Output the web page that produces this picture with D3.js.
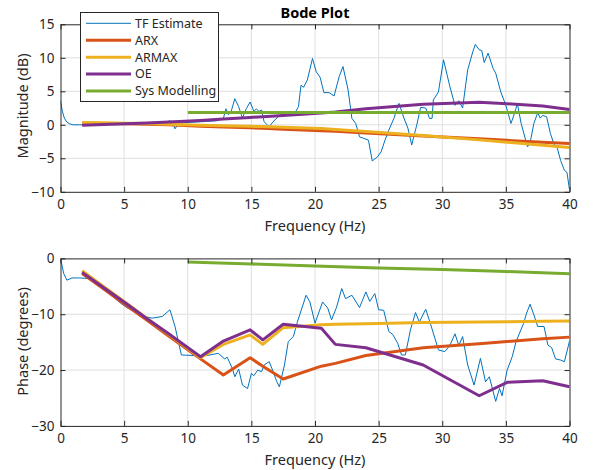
<!DOCTYPE html>
<html><head><meta charset="utf-8">
<script src="https://cdn.jsdelivr.net/npm/d3@7"></script>
<style>
body{margin:0;background:#fff}
svg{display:block}
text{font-family:"Noto Sans",sans-serif;fill:#262626}
</style>
</head><body>
<svg id="c" width="593" height="470"></svg>
<script>
// ---------------- DATA ----------------
const xTicks = [0,5,10,15,20,25,30,35,40];
const magTicks = [-10,-5,0,5,10,15];
const phaseTicks = [-30,-20,-10,0];
const seriesNames = ["TF Estimate","ARX","ARMAX","OE","Sys Modelling"];

// TF estimate (magnitude)
const tfMagFreq = [0,0.15,0.3,0.5,0.7,1.0,1.5,2.5,4,5.5,7,8.0,8.6,8.8,9.0,9.2,9.6,10.5,11.5,12.3,12.8,13.0,13.2,13.4,13.7,14.0,14.3,14.6,14.9,15.2,15.4,15.6,15.8,16.0,16.4,16.7,17.1,17.5,17.8,18.1,18.4,18.7,18.9,19.1,19.4,19.8,20.1,20.4,20.7,21.1,21.5,21.9,22.2,22.6,22.9,23.2,23.5,23.8,24.2,24.5,24.9,25.2,25.5,25.8,26.2,26.6,27.0,27.3,27.6,28.0,28.3,28.7,29.0,29.2,29.3,29.7,30.1,30.6,31.0,31.3,31.6,32.0,32.4,32.6,32.9,33.1,33.3,33.6,34.0,34.2,34.6,35.0,35.4,35.7,35.9,36.2,36.7,36.9,37.2,37.5,37.7,37.9,38.2,38.5,38.8,39.0,39.3,39.6,39.8,40.0];
const tfMag = [3.6,2.0,1.0,0.4,0.15,0.0,0.0,0.05,0.1,0.1,0.15,0.2,0.6,0.3,-0.6,0.0,0.3,0.4,0.5,0.6,0.95,2.4,1.5,1.9,3.9,2.7,1.0,2.4,3.4,2.0,2.4,2.0,2.2,0.45,-0.3,0.45,1.2,1.75,1.6,2.0,1.7,2.7,5.9,5.6,6.7,9.9,7.9,7.1,4.8,4.8,4.3,7.2,8.7,5.2,0.95,0.2,-1.8,-2.0,-2.3,-5.4,-4.8,-4.0,-2.3,-0.8,0.95,3.2,0.95,-0.5,-3.0,0.0,2.6,2.5,0.95,0.95,3.7,4.9,9.7,5.7,2.9,3.6,2.5,8.2,10.9,12.0,11.2,11.1,9.3,10.7,8.4,7.7,4.9,2.9,0.2,1.8,3.2,0.2,-3.3,-2.7,0.2,1.8,1.0,1.4,1.2,-1.3,-3.0,-3.2,-5.3,-6.8,-7.1,-9.7];

// TF estimate (phase)
const tfPhaseFreq = [0,0.25,0.5,0.9,1.5,2.2,2.8,3.5,4.2,4.6,5.2,6.0,6.6,7.2,8.0,8.6,9.0,9.5,10.6,11.5,12.4,12.9,13.1,13.5,13.7,14.0,14.3,14.7,15.0,15.2,15.5,15.8,16.0,16.4,16.7,17.0,17.2,17.6,17.9,18.3,18.6,19.3,19.6,20.0,20.6,21.0,21.3,21.7,22.1,22.4,22.9,23.5,24.0,24.3,24.7,25.0,25.4,25.8,26.1,26.5,26.8,27.1,27.5,27.9,28.2,28.7,29.1,29.7,30.2,30.6,31.0,31.3,31.6,32.0,32.5,33.0,33.4,33.7,34.2,34.5,34.7,35.1,35.5,35.8,36.4,36.6,36.9,37.2,37.5,38.0,38.3,38.6,38.9,39.3,39.6,40.0];
const tfPhase = [0,-2.7,-3.9,-3.5,-3.5,-3.6,-4.5,-5.8,-7.0,-7.8,-8.8,-9.8,-10.4,-10.7,-10.4,-9.2,-12.2,-17.3,-17.4,-17.4,-17.0,-18.0,-17.7,-19.7,-21.2,-19.8,-22.7,-23.3,-20.6,-21.0,-20.0,-20.3,-19.1,-18.5,-20.2,-22.1,-23.0,-19.1,-14.9,-14.0,-11.5,-6.6,-7.8,-11.6,-7.8,-8.9,-11.0,-8.7,-5.4,-7.2,-6.6,-8.8,-6.0,-7.7,-6.3,-9.2,-9.3,-13.1,-13.6,-15.2,-17.3,-17.3,-12.8,-9.7,-11.4,-9.1,-11.9,-16.4,-16.7,-15.6,-13.5,-15.6,-14.0,-19.1,-22.7,-17.9,-22.1,-21.2,-25.6,-23.3,-24.6,-20.0,-17.6,-14.9,-11.6,-10.0,-8.2,-10.1,-12.2,-12.2,-15.5,-16.0,-18.0,-18.2,-18.5,-14.8];

// Identified models (shared frequency grid)
const modelFreq = [1.7,3.4,5.1,6.8,8.5,11.0,12.8,14.9,15.9,17.5,20.5,21.6,24.0,28.5,32.9,35.1,37.9,40.0];
const arxMag   = [0.2,0.18,0.14,0.08,0.0,-0.2,-0.32,-0.45,-0.52,-0.65,-0.88,-0.98,-1.23,-1.67,-2.1,-2.32,-2.6,-2.8];
const armaxMag = [0.35,0.3,0.25,0.18,0.1,-0.05,-0.13,-0.22,-0.27,-0.35,-0.57,-0.7,-1.0,-1.6,-2.25,-2.6,-3.05,-3.4];
const oeMag    = [-0.05,0.05,0.15,0.28,0.42,0.65,0.85,1.1,1.2,1.4,1.75,1.9,2.4,3.05,3.35,3.15,2.8,2.3];
const arxPhase   = [-2.7,-5.5,-8.3,-11.1,-13.9,-18.0,-20.9,-17.8,-19.3,-21.6,-19.3,-18.8,-17.4,-16.0,-15.3,-14.9,-14.4,-14.1];
const armaxPhase = [-2.2,-5.05,-7.9,-10.75,-13.6,-17.8,-15.4,-13.7,-15.4,-12.4,-11.9,-11.8,-11.7,-11.5,-11.4,-11.35,-11.25,-11.2];
const oePhase    = [-2.5,-5.26,-8.0,-10.8,-13.5,-17.6,-14.8,-12.8,-14.6,-11.8,-12.5,-15.4,-16.0,-19.1,-24.6,-22.2,-21.9,-23.0];

// System modelling
const sysFreq  = [10,15,20,25,30,35,40];
const sysMag   = [1.85,1.85,1.85,1.85,1.85,1.85,1.85];
const sysPhase = [-0.65,-1.0,-1.35,-1.7,-2.0,-2.35,-2.75];

// ---------------- DRAW ----------------
const colors = {"TF Estimate":"#0072BD","ARX":"#D95319","ARMAX":"#EDB120","OE":"#7E2F8E","Sys Modelling":"#77AC30"};
const widths = {"TF Estimate":1,"ARX":3,"ARMAX":3,"OE":3,"Sys Modelling":3};
const svg = d3.select("#c");
const AX = "#262626", GRID = "#dfdfdf";
const x = d3.scaleLinear().domain([0,40]).range([60.5,569.5]);

function zip(f,v){ return f.map((d,i)=>[d,v[i]]); }

function panel(opt){
  const y = d3.scaleLinear().domain(opt.domain).range([opt.bottom, opt.top]);
  const g = svg.append("g");
  const id = "clip"+opt.name;
  svg.append("clipPath").attr("id",id).append("rect")
    .attr("x",x(0)).attr("y",opt.top).attr("width",x(40)-x(0)).attr("height",opt.bottom-opt.top);
  // grid
  g.append("g").selectAll("line").data(xTicks.slice(1,-1)).join("line")
    .attr("x1",d=>x(d)).attr("x2",d=>x(d)).attr("y1",opt.top).attr("y2",opt.bottom)
    .attr("stroke",GRID).attr("stroke-width",1);
  g.append("g").selectAll("line").data(opt.ticks.slice(1,-1)).join("line")
    .attr("y1",d=>y(d)).attr("y2",d=>y(d)).attr("x1",x(0)).attr("x2",x(40))
    .attr("stroke",GRID).attr("stroke-width",1);
  // series
  const line = d3.line().x(d=>x(d[0])).y(d=>y(d[1]));
  const lg = g.append("g").attr("clip-path",`url(#${id})`);
  opt.series.forEach(s=>{
    lg.append("path").datum(s.data).attr("d",line).attr("fill","none")
      .attr("stroke",colors[s.name]).attr("stroke-width",widths[s.name])
      .attr("stroke-linejoin","round").attr("stroke-linecap","butt");
  });
  // axes
  const fs = "13.5px";
  const ab = g.append("g").attr("transform",`translate(0,${opt.bottom})`)
    .call(d3.axisBottom(x).tickValues(xTicks).tickSizeInner(-5).tickSizeOuter(0).tickPadding(8));
  const at = g.append("g").attr("transform",`translate(0,${opt.top})`)
    .call(d3.axisTop(x).tickValues(xTicks).tickSizeInner(-5).tickSizeOuter(0).tickFormat(""));
  const al = g.append("g").attr("transform",`translate(${x(0)},0)`)
    .call(d3.axisLeft(y).tickValues(opt.ticks).tickSizeInner(-5).tickSizeOuter(0).tickPadding(6));
  const ar = g.append("g").attr("transform",`translate(${x(40)},0)`)
    .call(d3.axisRight(y).tickValues(opt.ticks).tickSizeInner(-5).tickSizeOuter(0).tickFormat(""));
  [ab,at,al,ar].forEach(a=>{
    a.select(".domain").attr("stroke",AX).attr("stroke-width",1);
    a.selectAll(".tick line").attr("stroke",AX);
    a.selectAll("text").attr("fill",AX).style("font-size",fs).style("font-family","'Noto Sans',sans-serif");
  });
  // labels
  svg.append("text").attr("x",315).attr("y",opt.xlabelY).attr("text-anchor","middle")
    .style("font-size","14.5px").text("Frequency (Hz)");
  svg.append("text").attr("transform",`translate(28,${opt.ylabelC}) rotate(-90)`).attr("text-anchor","middle")
    .style("font-size","14.5px").text(opt.ylabel);
  return g;
}

panel({name:"mag",domain:[-10,15],ticks:magTicks,top:24.3,bottom:191.8,xlabelY:230.5,ylabelC:106,ylabel:"Magnitude (dB)",
  series:[
    {name:"TF Estimate",data:zip(tfMagFreq,tfMag)},
    {name:"ARX",data:zip(modelFreq,arxMag)},
    {name:"ARMAX",data:zip(modelFreq,armaxMag)},
    {name:"OE",data:zip(modelFreq,oeMag)},
    {name:"Sys Modelling",data:zip(sysFreq,sysMag)}
  ]});
panel({name:"ph",domain:[-30,0],ticks:phaseTicks,top:258.4,bottom:425.9,xlabelY:464.5,ylabelC:341.5,ylabel:"Phase (degrees)",
  series:[
    {name:"TF Estimate",data:zip(tfPhaseFreq,tfPhase)},
    {name:"ARX",data:zip(modelFreq,arxPhase)},
    {name:"ARMAX",data:zip(modelFreq,armaxPhase)},
    {name:"OE",data:zip(modelFreq,oePhase)},
    {name:"Sys Modelling",data:zip(sysFreq,sysPhase)}
  ]});

// title
svg.append("text").attr("x",315).attr("y",18.3).attr("text-anchor","middle")
  .style("font-size","14.5px").style("font-weight","bold").attr("fill","#000").style("fill","#000").text("Bode Plot");

// legend
const leg = svg.append("g");
leg.append("rect").attr("x",80.5).attr("y",12.5).attr("width",138).attr("height",89)
  .attr("fill","#fff").attr("stroke",AX).attr("stroke-width",1);
const legY = d3.scalePoint().domain(seriesNames).range([23.3,91]);
const items = leg.selectAll("g.item").data(seriesNames).join("g").attr("class","item")
  .attr("transform",d=>`translate(0,${legY(d)})`);
items.append("line").attr("x1",86).attr("x2",131).attr("y1",0).attr("y2",0)
  .attr("stroke",d=>colors[d]).attr("stroke-width",d=>widths[d]);
items.append("text").attr("x",135).attr("dy","0.35em").style("font-size","12.5px").text(d=>d);
</script>
</body></html>
